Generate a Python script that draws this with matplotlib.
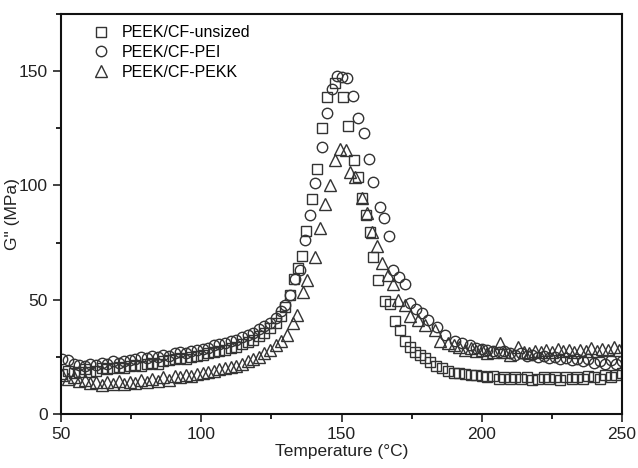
import matplotlib
matplotlib.use("Agg")
import matplotlib.pyplot as plt
from matplotlib.ticker import MultipleLocator

plt.rcParams["font.family"] = ["Liberation Sans", "DejaVu Sans"]

# PEEK/CF-unsized (squares)
unsized_T = [50.5, 52.5, 54.5, 56.5, 58.5, 60.5, 62.5, 64.5, 66.5, 68.5, 70.5, 72.5, 74.5, 76.5,
             78.5, 80.5, 82.5, 84.5, 86.5, 88.5, 90.5, 92.5, 94.5, 96.5, 98.5, 100.5, 102.5, 104.5,
             106.5, 108.5, 110.5, 112.5, 114.5, 116.5, 118.5, 120.5, 122.5, 124.5, 126.5, 128.5,
             130.0, 131.6, 133.2, 134.5, 135.8, 137.5, 139.4, 141.1, 142.9, 144.8, 147.5, 150.5,
             152.4, 154.5, 156.0, 157.2, 158.7, 160.2, 161.3, 163.1, 165.5, 167.3, 169.0, 170.9,
             172.6, 174.4, 176.2, 178.0, 179.8, 181.5, 183.7, 185.8, 188.0, 190.0, 192.0, 194.0,
             196.0, 198.0, 200.0, 202.0, 204.0, 206.0, 208.0, 210.0, 212.0, 214.0, 216.0, 218.0,
             220.0, 222.0, 224.0, 226.0, 228.0, 230.0, 232.0, 234.0, 236.0, 238.0, 240.0, 242.0,
             244.0, 246.0, 248.0, 250.0]
unsized_G = [17.5, 19.0, 18.0, 18.5, 19.5, 18.5, 19.0, 20.0, 19.5, 20.0, 20.5, 20.0, 21.0, 21.5,
             21.0, 22.0, 22.5, 22.0, 23.0, 23.5, 24.0, 24.5, 24.0, 25.0, 25.5, 26.0, 26.5, 27.0,
             27.5, 28.0, 29.0, 29.5, 30.5, 31.5, 32.5, 34.0, 35.5, 37.5, 40.0, 43.0,
             47.0, 52.0, 59.0, 64.0, 69.0, 80.0, 94.0, 107.0, 125.0, 138.6, 145.0, 138.6,
             126.0, 111.0, 103.6, 94.4, 87.0, 79.7, 68.5, 58.6, 49.5, 48.0, 40.8, 36.7,
             32.0, 29.2, 27.0, 25.8, 24.5, 22.7, 21.0, 20.0, 19.0, 18.0, 18.0, 17.5,
             17.0, 17.0, 16.5, 16.0, 16.5, 15.5, 16.0, 15.5, 16.0, 15.5, 16.0, 15.0,
             15.5, 16.0, 15.5, 16.0, 15.0, 16.0, 15.5, 16.0, 15.5, 16.5, 16.0, 15.5,
             17.0, 16.0, 17.0, 18.0]

# PEEK/CF-PEI (circles)
pei_T = [50.5, 52.5, 54.5, 56.5, 58.5, 60.5, 62.5, 64.5, 66.5, 68.5, 70.5, 72.5, 74.5, 76.5,
         78.5, 80.5, 82.5, 84.5, 86.5, 88.5, 90.5, 92.5, 94.5, 96.5, 98.5, 100.5, 102.5, 104.5,
         106.5, 108.5, 110.5, 112.5, 114.5, 116.5, 118.5, 120.5, 122.5, 124.5, 126.5, 128.5,
         129.9, 131.5, 133.4, 135.2, 137.0, 138.8, 140.6, 142.9, 144.7, 146.5, 148.3, 150.0,
         151.9, 154.2, 156.0, 158.0, 159.9, 161.3, 163.7, 165.2, 166.8, 168.5, 170.5, 172.6,
         174.4, 176.5, 178.6, 181.0, 183.9, 186.9, 190.5, 193.0, 195.8, 198.0, 200.0, 202.0,
         204.0, 206.0, 208.0, 210.0, 212.0, 214.0, 216.0, 218.0, 220.0, 222.0, 224.0, 226.0,
         228.0, 230.0, 232.0, 234.0, 236.0, 238.0, 240.0, 242.0, 244.0, 246.0, 248.0, 250.0]
pei_G = [24.0, 23.5, 22.0, 21.5, 21.0, 22.0, 21.5, 22.5, 22.0, 23.0, 22.5, 23.0, 23.5, 24.0,
         25.0, 24.5, 25.5, 25.0, 26.0, 25.5, 26.5, 27.0, 26.5, 27.5, 28.0, 28.5, 29.0, 30.0,
         30.5, 31.0, 32.0, 32.5, 33.5, 34.5, 35.5, 37.0, 38.5, 40.0, 42.0, 45.0,
         47.7, 52.0, 59.0, 63.0, 76.0, 87.0, 101.0, 117.0, 131.5, 142.4, 148.0, 147.5,
         146.8, 139.0, 129.3, 123.0, 111.4, 101.6, 90.6, 85.6, 77.8, 63.0, 60.0, 56.7,
         48.4, 46.0, 44.0, 41.0, 38.2, 34.5, 32.0, 31.0, 30.0, 29.0, 28.5, 28.0,
         27.5, 27.0, 27.5, 26.5, 26.0, 26.5, 25.5, 26.0, 25.0, 25.5, 24.5, 25.0,
         24.0, 24.5, 23.5, 24.0, 23.0, 24.0, 22.5, 23.0, 22.0, 23.5, 22.0, 23.0]

# PEEK/CF-PEKK (triangles)
pekk_T = [50.5, 52.5, 54.5, 56.5, 58.5, 60.5, 62.5, 64.5, 66.5, 68.5, 70.5, 72.5, 74.5, 76.5,
          78.5, 80.5, 82.5, 84.5, 86.5, 88.5, 90.5, 92.5, 94.5, 96.5, 98.5, 100.5, 102.5, 104.5,
          106.5, 108.5, 110.5, 112.5, 114.5, 116.5, 118.5, 120.5, 122.5, 124.5, 126.5, 128.5,
          130.5, 132.8, 134.0, 136.4, 137.6, 140.6, 142.3, 144.1, 145.9, 147.7, 149.5, 151.6,
          153.0, 154.8, 157.2, 159.0, 160.8, 162.5, 164.5, 166.5, 168.5, 170.2, 172.6, 174.4,
          177.3, 179.8, 183.3, 185.1, 188.0, 190.0, 192.0, 194.0, 196.0, 198.0, 200.0, 202.0,
          204.0, 206.5, 208.0, 210.0, 212.9, 215.0, 217.0, 219.0, 221.0, 223.0, 225.0, 227.0,
          229.0, 231.0, 233.0, 235.0, 237.0, 239.0, 241.0, 243.0, 245.0, 247.0, 249.0]
pekk_G = [17.0, 15.5, 16.0, 14.5, 15.0, 13.5, 14.0, 12.5, 14.0, 13.0, 14.5, 13.0, 14.0, 13.5,
          15.0, 14.0, 15.5, 14.5, 16.0, 15.0, 16.5, 16.0, 17.0, 16.5, 17.5, 18.0, 18.5, 19.0,
          19.5, 20.0, 20.5, 21.0, 22.0, 23.0, 24.0, 25.0, 26.5, 28.0, 30.0, 32.0,
          34.5, 39.7, 43.3, 53.5, 58.6, 68.8, 81.6, 92.0, 100.0, 111.0, 116.0, 115.7,
          106.0, 103.8, 94.3, 87.8, 79.7, 73.5, 66.0, 61.0, 57.0, 50.0, 47.7, 43.0,
          41.0, 39.0, 36.7, 32.0, 31.0, 30.0, 29.5, 28.0, 29.0, 27.5, 28.0, 26.5,
          27.0, 31.0, 27.0, 26.0, 29.4, 27.0, 26.5, 27.5, 27.0, 28.0, 27.0, 28.5,
          27.5, 28.0, 27.0, 28.0, 27.5, 29.0, 27.5, 28.5, 28.0, 29.5, 28.0]

fig = plt.figure(figsize=(6.38, 4.68), dpi=100)
ax = fig.add_axes([0.0956, 0.1154, 0.8794, 0.8546])

edge = "#333333"
ax.plot(unsized_T, unsized_G, ls="none", marker="s", ms=6.5, mfc="none", mec=edge, mew=1.0,
        label="PEEK/CF-unsized")
ax.plot(pei_T, pei_G, ls="none", marker="o", ms=7.5, mfc="none", mec=edge, mew=1.0,
        label="PEEK/CF-PEI")
ax.plot(pekk_T, pekk_G, ls="none", marker="^", ms=8, mfc="none", mec=edge, mew=1.0,
        label="PEEK/CF-PEKK")

ax.set_xlim(50, 250)
ax.set_ylim(0, 175)
ax.xaxis.set_major_locator(MultipleLocator(50))
ax.xaxis.set_minor_locator(MultipleLocator(25))
ax.yaxis.set_major_locator(MultipleLocator(50))
ax.yaxis.set_minor_locator(MultipleLocator(25))
ax.tick_params(which="major", direction="out", length=6, width=1.2, labelsize=12.5, colors="#222222")
ax.tick_params(which="minor", direction="out", length=3.5, width=1.2)
for s in ax.spines.values():
    s.set_linewidth(1.5)
    s.set_color("#111111")

ax.set_xlabel("Temperature (\u00b0C)", fontsize=12.5, labelpad=1, color="#222222")
ax.set_ylabel("G\" (MPa)", fontsize=12.5, color="#222222")
ax.yaxis.set_label_coords(-0.073, 0.5)

ax.legend(loc="upper left", frameon=False, fontsize=11.5, handletextpad=0.7,
          borderaxespad=0.3, labelspacing=0.3, handlelength=1.2,
          bbox_to_anchor=(0.035, 1.0))

fig.savefig("out.png", dpi=100)
